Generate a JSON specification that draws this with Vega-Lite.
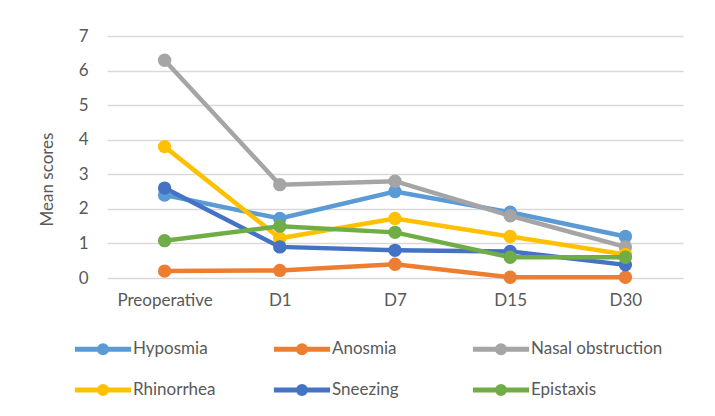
{
  "$schema": "https://vega.github.io/schema/vega-lite/v6.json",
  "width": 576,
  "height": 242,
  "autosize": {"type": "none"},
  "padding": {"left": 107, "top": 36, "right": 32, "bottom": 138},
  "background": "white",
  "config": {
    "font": "Lato",
    "view": {"stroke": null},
    "axis": {"labelFont": "Lato", "titleFont": "Lato", "labelColor": "#595959", "titleColor": "#595959", "labelFontSize": 17, "titleFontSize": 17, "titleFontWeight": "normal"},
    "legend": {"labelFont": "Lato", "labelColor": "#595959", "labelFontSize": 17}
  },
  "data": {
    "values": [
      {"symptom": "Hyposmia", "time": "Preoperative", "score": 2.4},
      {"symptom": "Hyposmia", "time": "D1", "score": 1.72},
      {"symptom": "Hyposmia", "time": "D7", "score": 2.5},
      {"symptom": "Hyposmia", "time": "D15", "score": 1.9},
      {"symptom": "Hyposmia", "time": "D30", "score": 1.2},
      {"symptom": "Anosmia", "time": "Preoperative", "score": 0.2},
      {"symptom": "Anosmia", "time": "D1", "score": 0.22},
      {"symptom": "Anosmia", "time": "D7", "score": 0.4},
      {"symptom": "Anosmia", "time": "D15", "score": 0.02},
      {"symptom": "Anosmia", "time": "D30", "score": 0.02},
      {"symptom": "Nasal obstruction", "time": "Preoperative", "score": 6.3},
      {"symptom": "Nasal obstruction", "time": "D1", "score": 2.7},
      {"symptom": "Nasal obstruction", "time": "D7", "score": 2.8},
      {"symptom": "Nasal obstruction", "time": "D15", "score": 1.8},
      {"symptom": "Nasal obstruction", "time": "D30", "score": 0.9},
      {"symptom": "Rhinorrhea", "time": "Preoperative", "score": 3.8},
      {"symptom": "Rhinorrhea", "time": "D1", "score": 1.15},
      {"symptom": "Rhinorrhea", "time": "D7", "score": 1.72},
      {"symptom": "Rhinorrhea", "time": "D15", "score": 1.2},
      {"symptom": "Rhinorrhea", "time": "D30", "score": 0.68},
      {"symptom": "Sneezing", "time": "Preoperative", "score": 2.6},
      {"symptom": "Sneezing", "time": "D1", "score": 0.9},
      {"symptom": "Sneezing", "time": "D7", "score": 0.8},
      {"symptom": "Sneezing", "time": "D15", "score": 0.77},
      {"symptom": "Sneezing", "time": "D30", "score": 0.38},
      {"symptom": "Epistaxis", "time": "Preoperative", "score": 1.08},
      {"symptom": "Epistaxis", "time": "D1", "score": 1.5},
      {"symptom": "Epistaxis", "time": "D7", "score": 1.32},
      {"symptom": "Epistaxis", "time": "D15", "score": 0.6},
      {"symptom": "Epistaxis", "time": "D30", "score": 0.6}
    ]
  },
  "mark": {"type": "line", "strokeWidth": 4.5, "point": {"filled": true, "size": 180, "opacity": 1}},
  "encoding": {
    "x": {
      "field": "time", "type": "nominal",
      "sort": ["Preoperative", "D1", "D7", "D15", "D30"],
      "scale": {"padding": 0.5},
      "axis": {"title": null, "labelAngle": 0, "ticks": false, "domain": false, "labelPadding": 14, "grid": false}
    },
    "y": {
      "field": "score", "type": "quantitative",
      "scale": {"domain": [0, 7], "nice": false},
      "axis": {"title": "Mean scores", "values": [0, 1, 2, 3, 4, 5, 6, 7], "ticks": false, "domain": false, "gridColor": "#D9D9D9", "gridWidth": 1.3, "labelPadding": 19, "titlePadding": 22, "titleY": 143}
    },
    "color": {
      "field": "symptom", "type": "nominal",
      "sort": ["Hyposmia", "Anosmia", "Nasal obstruction", "Rhinorrhea", "Sneezing", "Epistaxis"],
      "scale": {
        "domain": ["Hyposmia", "Anosmia", "Nasal obstruction", "Rhinorrhea", "Sneezing", "Epistaxis"],
        "range": ["#5B9BD5", "#ED7D31", "#A5A5A5", "#FFC000", "#4472C4", "#70AD47"]
      },
      "legend": {
        "title": null,
        "orient": "none",
        "legendX": -26,
        "legendY": 291,
        "direction": "horizontal",
        "columns": 3,
        "gridAlign": "all",
        "symbolType": "M-1.44,0L1.44,0M-0.18,0A0.18,0.18 0 1,1 0.18,0A0.18,0.18 0 1,1 -0.18,0Z",
        "symbolSize": 1521,
        "symbolStrokeWidth": 5,
        "columnPadding": -2,
        "rowPadding": 5,
        "labelOffset": 8,
        "encode": {"symbols": {"update": {"fill": {"scale": "color", "field": "value"}, "fillOpacity": {"value": 1}, "opacity": {"value": 1}}}}
      }
    }
  }
}
